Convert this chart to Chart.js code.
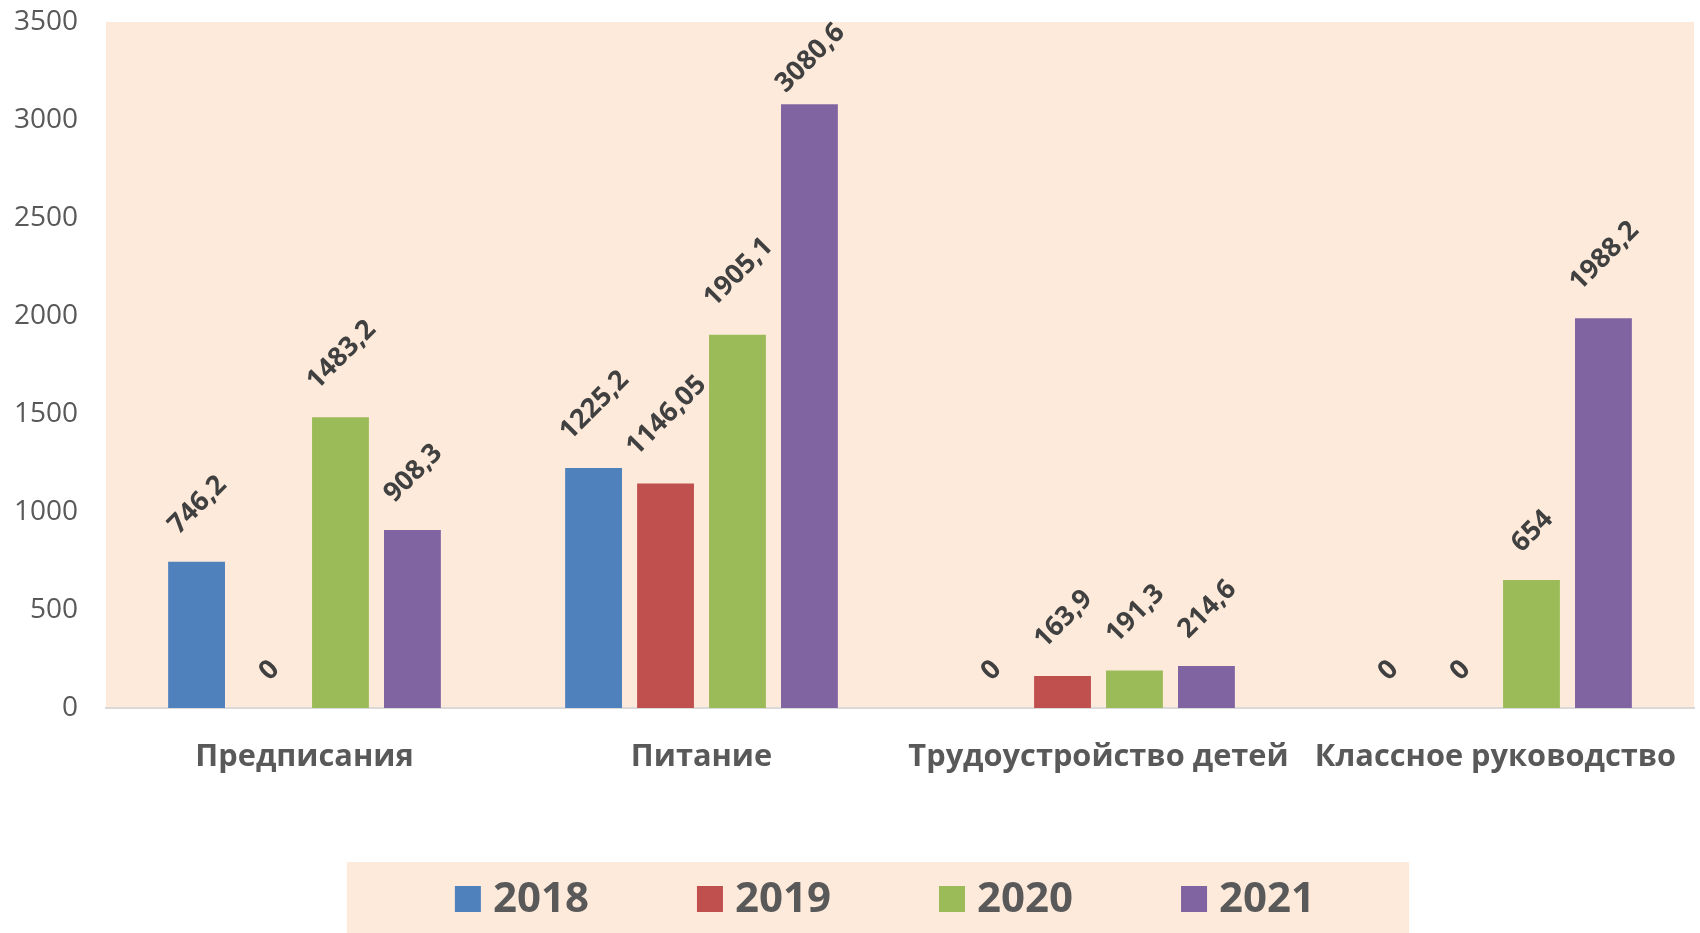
<!DOCTYPE html>
<html lang="ru">
<head>
<meta charset="utf-8">
<title>Chart</title>
<script src="https://cdn.jsdelivr.net/npm/chart.js@4.4.1/dist/chart.umd.min.js"></script>
<style>
  html, body { margin: 0; padding: 0; background: #ffffff; }
  #wrap { width: 1700px; height: 933px; position: relative; }
</style>
</head>
<body>
<div id="wrap"><canvas id="chart"></canvas></div>
<script>
const categories = ['Предписания', 'Питание', 'Трудоустройство детей', 'Классное руководство'];
const seriesNames = ['2018', '2019', '2020', '2021'];
const values2018 = [746.2, 1225.2, 0, 0];
const values2019 = [0, 1146.05, 163.9, 0];
const values2020 = [1483.2, 1905.1, 191.3, 654];
const values2021 = [908.3, 3080.6, 214.6, 1988.2];
const seriesColors = ['#4F81BD', '#C0504D', '#9BBB59', '#8064A2'];
const yMin = 0;
const yMax = 3500;
const yStep = 500;

const plotBackground = '#FDEADA';
const fontName = "'Open Sans', 'Noto Sans', sans-serif";

function formatValue(value) {
    return String(value).replace('.', ',');
}

// peach fill behind the bars
const plotBackgroundPlugin = {
    id: 'plotBackground',
    beforeDraw(chart) {
        const { ctx, chartArea } = chart;
        ctx.save();
        ctx.fillStyle = plotBackground;
        ctx.fillRect(chartArea.left, chartArea.top, chartArea.right - chartArea.left, chartArea.bottom - chartArea.top);
        ctx.restore();
    }
};

// rotated value labels above each bar
const valueLabelPlugin = {
    id: 'valueLabels',
    afterDatasetsDraw(chart) {
        const ctx = chart.ctx;
        ctx.save();
        ctx.font = `bold 27px ${fontName}`;
        ctx.fillStyle = '#404040';
        ctx.textAlign = 'center';
        ctx.textBaseline = 'middle';
        chart.data.datasets.forEach((dataset, i) => {
            const meta = chart.getDatasetMeta(i);
            meta.data.forEach((bar, j) => {
                const text = formatValue(dataset.data[j]);
                const textWidth = ctx.measureText(text).width;
                const half = (textWidth + 23) / (2 * Math.SQRT2);
                let centerY = bar.y - 24 - half;
                if (centerY - half < chart.chartArea.top - 2) {
                    centerY = chart.chartArea.top - 2 + half;
                }
                ctx.save();
                ctx.translate(bar.x + 1, centerY);
                ctx.rotate(-Math.PI / 4);
                ctx.fillText(text, 0, 0);
                ctx.restore();
            });
        });
        ctx.restore();
    }
};

// legend in a filled box at the bottom
const boxLegendPlugin = {
    id: 'boxLegend',
    afterDraw(chart) {
        const ctx = chart.ctx;
        const boxSize = 26;
        const textGap = 12;
        const itemGap = 108;
        ctx.save();
        ctx.font = `bold 42px ${fontName}`;
        const items = chart.data.datasets.map(ds => ({
            label: ds.label,
            color: ds.backgroundColor,
            width: ctx.measureText(ds.label).width
        }));
        let total = itemGap * (items.length - 1);
        items.forEach(item => { total += boxSize + textGap + item.width; });
        const center = chart.width / 2 + 35;
        const top = chart.height - 71;
        const middle = top + 37;
        let x = center - total / 2;

        ctx.fillStyle = plotBackground;
        ctx.fillRect(x - 108, top, total + 108 + 94, chart.height - top);

        ctx.textAlign = 'left';
        ctx.textBaseline = 'middle';
        items.forEach(item => {
            ctx.fillStyle = item.color;
            ctx.fillRect(x, middle - boxSize / 2, boxSize, boxSize);
            ctx.fillStyle = '#595959';
            ctx.fillText(item.label, x + boxSize + textGap, middle + 1);
            x += boxSize + textGap + item.width + itemGap;
        });
        ctx.restore();
    }
};

function buildDatasets() {
    const seriesValues = [values2018, values2019, values2020, values2021];
    return seriesNames.map((name, i) => ({
        label: name,
        data: seriesValues[i],
        backgroundColor: seriesColors[i],
        borderWidth: 0,
        categoryPercentage: 0.725,
        barPercentage: 0.79
    }));
}

Chart.defaults.font.family = fontName;

new Chart(document.getElementById('chart'), {
    type: 'bar',
    data: {
        labels: categories,
        datasets: buildDatasets()
    },
    options: {
        responsive: true,
        maintainAspectRatio: false,
        animation: false,
        layout: {
            padding: { left: 0, right: 6, top: 0, bottom: 126 }
        },
        plugins: {
            legend: { display: false },
            tooltip: { enabled: false }
        },
        scales: {
            x: {
                grid: { display: false, drawTicks: false },
                border: { display: true, color: '#D9D9D9', width: 2 },
                ticks: {
                    color: '#595959',
                    font: { size: 30.75, weight: 'bold' },
                    padding: 31,
                    maxRotation: 0,
                    autoSkip: false
                },
                afterFit(scale) {
                    scale.paddingLeft = 0;
                    scale.paddingRight = 0;
                }
            },
            y: {
                min: yMin,
                max: yMax,
                grid: { display: false, drawTicks: false },
                border: { display: false },
                ticks: {
                    stepSize: yStep,
                    color: '#595959',
                    font: { size: 28 },
                    padding: 28,
                    callback: value => String(value)
                },
                afterFit(scale) {
                    scale.width = 106;
                    scale.paddingTop = 22;
                    scale.paddingBottom = 0;
                }
            }
        }
    },
    plugins: [plotBackgroundPlugin, valueLabelPlugin, boxLegendPlugin]
});
</script>
</body>
</html>
